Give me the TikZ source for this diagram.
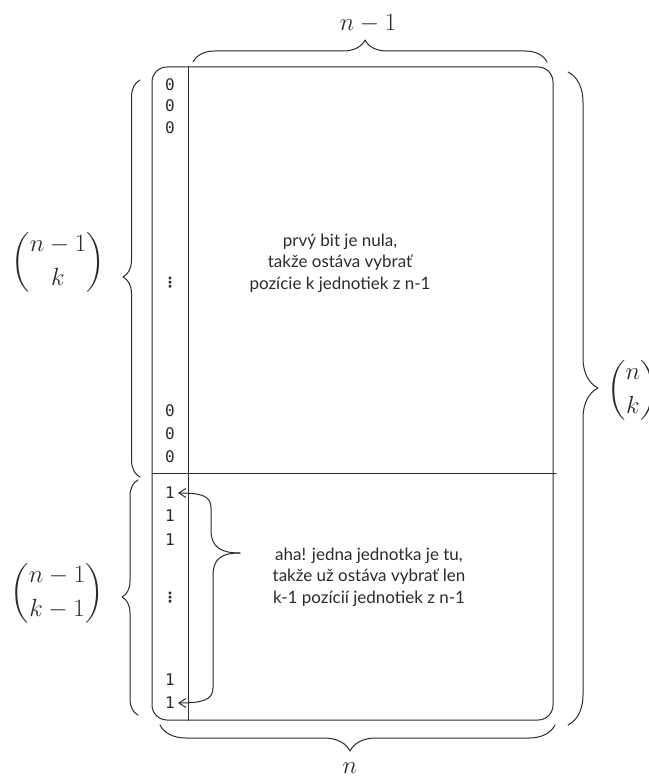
\documentclass[tikz,border=0pt]{standalone}
\usepackage{amsmath}
\usepackage{fontspec}
\setmainfont{Lato}
\newfontfamily\digitfont{DejaVu Sans Mono}
\newfontfamily\dotsfont{DejaVu Sans}
\usetikzlibrary{decorations.pathreplacing,arrows.meta}

\definecolor{ink}{HTML}{2B2B2B}

\tikzset{
  sketch/.style={draw=ink, line width=1pt, line cap=round, line join=round},
  bit/.style={font=\digitfont\fontsize{16}{18}\selectfont, text=ink, inner sep=0pt},
  ellip/.style={font=\dotsfont\bfseries\fontsize{14}{16}\selectfont, text=ink, inner sep=0pt},
  note/.style={font=\fontsize{17}{21.5}\selectfont, text=ink, align=center, inner sep=1pt},
  lbl/.style={font=\fontsize{26}{30}\selectfont, text=ink, inner sep=0pt},
  bracestyle/.style={sketch, decorate, decoration={brace, amplitude=#1}},
  pointer/.style={sketch, -{Straight Barb[length=7pt, width=9pt]}}
}

\begin{document}
\begin{tikzpicture}[x=1pt, y=-1pt]
\useasboundingbox (0,0) rectangle (648,778);
\clip (0,0) rectangle (648,778);

% the table of bit strings
\node[sketch, rounded corners=15pt, minimum width=401pt, minimum height=653pt,
      inner sep=0pt] (table) at (352.5,393.5) {};
\coordinate (coltop) at (188,67);
\coordinate (colbot) at (188,720);
\coordinate (midl) at (152,473);
\coordinate (midr) at (556,473);
\draw[sketch] (coltop) -- (colbot);
\draw[sketch] (midl) -- (midr);

% first column: zeros above, ones below
\node[bit] (z1) at (170,85) {0};
\node[bit] (z2) at (170,106) {0};
\node[bit] (z3) at (170,128) {0};
\node[ellip] (zd) at (170,283) {⋮};
\node[bit] (z4) at (170,411) {0};
\node[bit] (z5) at (170,434) {0};
\node[bit] (z6) at (170,457) {0};

\node[bit] (o1) at (170,493) {1};
\node[bit] (o2) at (170,516) {1};
\node[bit] (o3) at (170,540) {1};
\node[ellip] (od) at (170,598) {⋮};
\node[bit] (o4) at (170,680) {1};
\node[bit] (o5) at (170,703) {1};

% explanations
\node[note] (upper) at (340,263)
  {prvý bit je nula,\\takže ostáva vybrať\\pozície k jednotiek z n-1};
\node[note] (lower) at (369,577)
  {aha! jedna jednotka je tu,\\takže už ostáva vybrať len\\k-1 pozícií jednotiek z n-1};

% forked pointer from the note to the first and last one
\coordinate (fork) at (240,553);
\draw[pointer] (fork) .. controls (222,553) and (211,548) .. (211,530)
  -- (211,508) .. controls (211,496) and (202,493) .. ([xshift=3pt]o1.east);
\draw[pointer] (fork) .. controls (222,553) and (213,558) .. (213,576)
  -- (213,688) .. controls (213,700) and (202,703) .. ([xshift=3pt]o5.east);

% braces
\coordinate (tb1) at (193,62);
\coordinate (tb2) at (547,62);
\draw[bracestyle=22pt, decoration={aspect=0.486}] (tb1) -- (tb2);
\coordinate (bb1) at (555,725);
\coordinate (bb2) at (160,725);
\draw[bracestyle=26pt, decoration={aspect=0.519}] (bb1) -- (bb2);
\coordinate (rb1) at (568,72);
\coordinate (rb2) at (568,725);
\draw[bracestyle=30pt, decoration={aspect=0.484}] (rb1) -- (rb2);
\coordinate (lu1) at (140,477);
\coordinate (lu2) at (140,80);
\draw[bracestyle=17pt, decoration={aspect=0.504}] (lu1) -- (lu2);
\coordinate (ll1) at (138,715);
\coordinate (ll2) at (138,480);
\draw[bracestyle=16pt, decoration={aspect=0.502}] (ll1) -- (ll2);

% brace labels
\node[lbl] (nm1) at (368,24) {$n-1$};
\node[lbl] (nn) at (350,768) {$n$};
\node[lbl] (bupper) at (58,262) {$\dbinom{n-1}{k}$};
\node[lbl] (blower) at (57,593) {$\dbinom{n-1}{k-1}$};
\node[lbl, anchor=west] (ball) at (607,390) {$\dbinom{n}{k}$};
\end{tikzpicture}
\end{document}
